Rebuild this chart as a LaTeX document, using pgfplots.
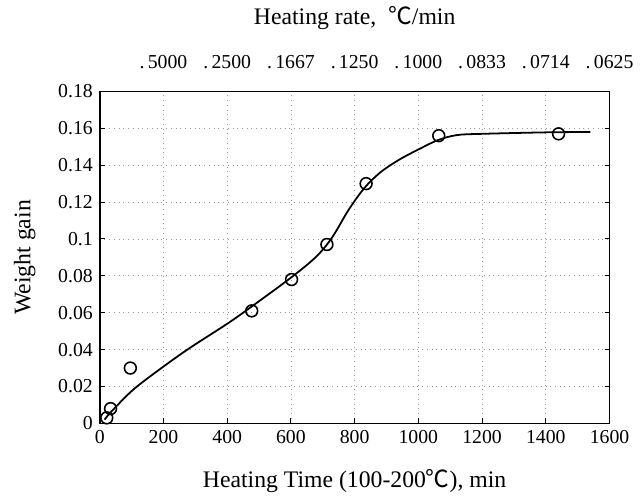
\documentclass[border=0pt]{standalone}
\usepackage{fontspec}
\setmainfont{Liberation Serif}
\newfontfamily\cjk{Noto Sans CJK JP}
\usepackage{pgfplots}
\pgfplotsset{compat=1.18}

\begin{document}
\begin{tikzpicture}
\begin{axis}[
    scale only axis,
    width=258pt, height=168pt,
    xmin=0, xmax=1600, ymin=0, ymax=0.18,
    xtick={0,200,400,600,800,1000,1200,1400,1600},
    ytick={0,0.02,0.04,0.06,0.08,0.1,0.12,0.14,0.16,0.18},
    yticklabels={0,0.02,0.04,0.06,0.08,0.1,0.12,0.14,0.16,0.18},
    /pgf/number format/1000 sep={},
    /pgf/number format/assume math mode=true,
    xtick pos=bottom,
    tick align=inside,
    major tick length=2.5pt,
    tick style={black, line width=0.5pt},
    grid=major,
    major grid style={dotted, gray!80},
    axis line style={line width=0.8pt},
    xlabel={Heating Time (100-200{\cjk ℃}), min},
    ylabel={Weight gain},
    label style={font=\large},
    ticklabel style={font=\normalsize},
    xlabel style={yshift=-6pt},
    ylabel style={inner ysep=7pt, yshift=1pt},
]
\addplot[black, line width=0.9pt, smooth, tension=0.55] coordinates {
    (15,0.002) (37,0.0065) (100,0.0175) (170,0.027) (275,0.040) (400,0.054)
    (470,0.0625) (600,0.079) (680,0.0905) (730,0.101) (780,0.1155)
    (830,0.1275) (880,0.136) (940,0.143) (1000,0.1485) (1060,0.1535)
    (1120,0.1563) (1200,0.1570) (1400,0.1578) (1540,0.1580)
};
\addplot[only marks, mark=o, mark size=3pt, mark options={fill=white, line width=0.8pt}, black] coordinates {
    (22,0.003) (34,0.008) (96,0.030) (477,0.061) (602,0.078) (713,0.097)
    (836,0.130) (1064,0.156) (1440,0.157)
};
\end{axis}
\begin{axis}[
    scale only axis,
    width=258pt, height=168pt,
    xmin=0, xmax=1600, ymin=0, ymax=0.18,
    axis x line*=top,
    axis y line=none,
    xtick={200,400,600,800,1000,1200,1400,1600},
    xticklabels={.\,5000,.\,2500,.\,1667,.\,1250,.\,1000,.\,0833,.\,0714,.\,0625},
    major tick length=0pt,
    axis line style={line width=0.8pt},
    xlabel={Heating rate,\ \ {\cjk ℃}/min},
    label style={font=\large},
    ticklabel style={font=\normalsize},
    xticklabel style={yshift=8pt},
    xlabel style={yshift=6pt},
]
\addplot[draw=none] coordinates {(0,0) (1600,0.18)};
\end{axis}
\end{tikzpicture}
\end{document}
